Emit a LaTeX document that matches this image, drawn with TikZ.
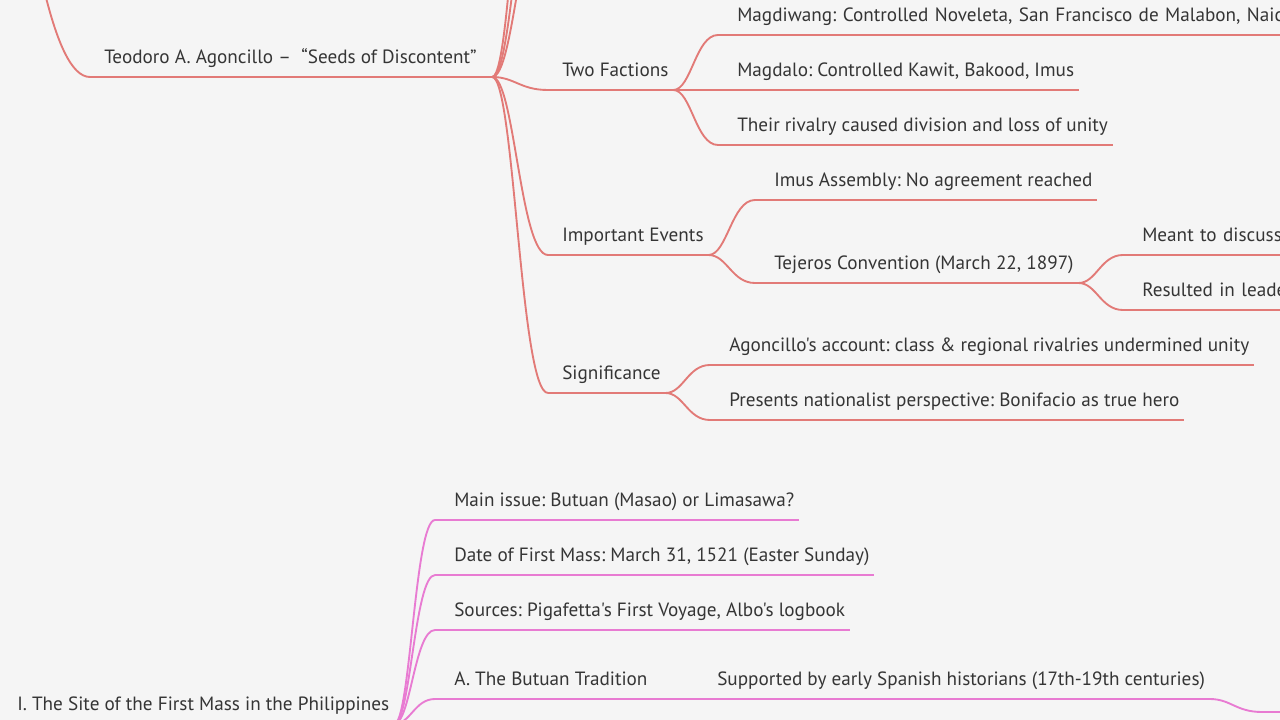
\documentclass[tikz,border=0pt]{standalone}
\usepackage{fontspec}
\setmainfont{PT Sans}[Ligatures=TeXOff]
\usetikzlibrary{calc}
\definecolor{paper}{HTML}{F5F5F5}
\definecolor{ink}{HTML}{353535}
\definecolor{salmon}{HTML}{E27A77}
\definecolor{orchid}{HTML}{E87BD2}
\frenchspacing

\tikzset{
branch/.style={line width=1.4pt},
link/.style={to path={let \p1=(\tikztostart), \p2=(\tikztotarget) in
 .. controls ({0.6*\x1+0.4*\x2},\y1) and ({0.5*\x1+0.5*\x2},\y2) .. (\tikztotarget)}},
topic/.style 2 args={anchor=south west, inner xsep=3.5pt, inner ysep=0pt,
 text depth=9.75pt, text=ink, font=\fontsize{14.4}{17}\selectfont\frenchspacing,
 execute at begin node={\hspace*{#2}},
 append after command={(\tikzlastnode.south west) edge[branch,draw=#1] (\tikzlastnode.south east)}},
lvlone/.style={topic={#1}{7pt}},
lvlone/.default=salmon,
lvltwo/.style={topic={#1}{10.75pt}},
lvltwo/.default=salmon,
cut/.style={text width=#1, align=left},
}

\begin{document}
\begin{tikzpicture}[x=0.75pt,y=-0.75pt]
\clip (0,0) rectangle (1280,720);
\fill[paper] (0,0) rectangle (1280,720);

% Agoncillo branch
\coordinate (top) at (-60,-500);
\coordinate (upa) at (548,-100);
\coordinate (upb) at (548,-190);
\coordinate (upc) at (548,-330);
\node[lvlone] (teo) at (90,77) {Teodoro A. Agoncillo –\ \ “Seeds of Discontent”\hspace*{8pt}};
\node[lvlone] (tf) at (548,90) {Two Factions};
\node[lvlone] (ie) at (548,255) {Important Events};
\node[lvlone] (sig) at (548,393) {Significance};
\node[lvltwo,cut=430pt] (mdw) at (718,35) {Magdiwang: Controlled Noveleta, San Francisco de Malabon, Naic};
\node[lvltwo] (mdl) at (718,90) {Magdalo: Controlled Kawit, Bakood, Imus};
\node[lvltwo] (riv) at (718,145) {Their rivalry caused division and loss of unity};
\node[lvltwo] (imus) at (755,200) {Imus Assembly: No agreement reached};
\node[lvltwo] (tej) at (755,283) {Tejeros Convention (March 22, 1897)};
\node[lvltwo,cut=200pt] (meant) at (1123,255) {Meant to discuss};
\node[lvltwo,cut=200pt] (res) at (1123,310) {Resulted in leade};
\node[lvltwo] (acc) at (710,365) {Agoncillo's account: class \& regional rivalries undermined unity};
\node[lvltwo] (pres) at (710,420) {Presents nationalist perspective: Bonifacio as true hero};

\draw[branch,salmon] (top) to[link] (teo.south west);
\foreach \c in {upa,upb,upc}
  \draw[branch,salmon] (teo.south east) to[link] (\c);
\foreach \c in {tf,ie,sig}
  \draw[branch,salmon] (teo.south east) to[link] (\c.south west);
\foreach \c in {mdw,mdl,riv}
  \draw[branch,salmon] (tf.south east) to[link] (\c.south west);
\foreach \c in {imus,tej}
  \draw[branch,salmon] (ie.south east) to[link] (\c.south west);
\foreach \c in {meant,res}
  \draw[branch,salmon] (tej.south east) to[link] (\c.south west);
\foreach \c in {acc,pres}
  \draw[branch,salmon] (sig.south east) to[link] (\c.south west);

% First Mass branch
\node[lvlone=orchid] (site) at (3,724) {I. The Site of the First Mass in the Philippines};
\node[lvltwo=orchid] (main) at (435,520) {Main issue: Butuan (Masao) or Limasawa?};
\node[lvltwo=orchid] (date) at (435,575) {Date of First Mass: March 31, 1521 (Easter Sunday)};
\node[lvltwo=orchid] (src) at (435,630) {Sources: Pigafetta's First Voyage, Albo's logbook};
\node[lvltwo=orchid] (but) at (435,699) {A. The Butuan Tradition};
\node[lvltwo=orchid] (sup) at (698,699) {Supported by early Spanish historians (17th-19th centuries)};
\coordinate (nxt) at (1262,712);
\coordinate (nxtend) at (1300,712);

\foreach \c in {main,date,src,but}
  \draw[branch,orchid] (site.south east) to[link] (\c.south west);
\draw[branch,orchid] (but.south east) -- (sup.south west);
\draw[branch,orchid] (sup.south east) to[link] (nxt) -- (nxtend);
\end{tikzpicture}
\end{document}
